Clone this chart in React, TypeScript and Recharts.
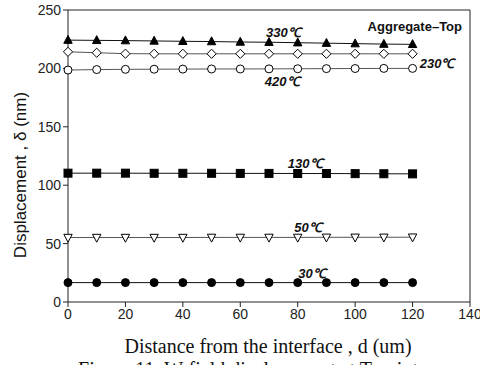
import React from "react";
import {
  LineChart,
  Line,
  XAxis,
  YAxis,
  ReferenceDot,
  ReferenceLine,
  Label,
} from "recharts";

// Distance from the interface (um)
const distances = [0, 10, 20, 30, 40, 50, 60, 70, 80, 90, 100, 110, 120];

// Displacement (nm) for each temperature
const t330 = [224.2, 224, 223.8, 223.5, 223.2, 223, 222.6, 222.4, 222, 221.6, 221.2, 220.8, 220.6];
const t230 = [214.2, 213.4, 212.6, 212.5, 212.5, 212.5, 212.5, 212.5, 212.5, 212.5, 212.5, 212.5, 212.5];
const t420 = [198.6, 199, 199.2, 199.3, 199.4, 199.5, 199.5, 199.6, 199.7, 199.8, 199.9, 200, 200];
const t130 = [110.3, 110.3, 110.3, 110.2, 110.2, 110.2, 110.1, 110.1, 110, 110, 109.9, 109.8, 109.7];
const t50 = [55.2, 55.2, 55.2, 55.2, 55.2, 55.3, 55.3, 55.3, 55.3, 55.4, 55.4, 55.4, 55.5];
const t30 = [16.6, 16.6, 16.6, 16.6, 16.6, 16.6, 16.6, 16.6, 16.6, 16.6, 16.6, 16.6, 16.6];

const xTicks = [0, 20, 40, 60, 80, 100, 120, 140];
const yTicks = [0, 50, 100, 150, 200, 250];

const data = distances.map((d, i) => ({
  d,
  t330: t330[i],
  t230: t230[i],
  t420: t420[i],
  t130: t130[i],
  t50: t50[i],
  t30: t30[i],
}));

// Temperature annotations placed in data coordinates
const tempLabels = [
  { x: 75, y: 230.8, text: "330\u2103", anchor: "middle" },
  { x: 122.5, y: 205, text: "230\u2103", anchor: "start" },
  { x: 74.6, y: 189.6, text: "420\u2103", anchor: "middle" },
  { x: 82.6, y: 119, text: "130\u2103", anchor: "middle" },
  { x: 83.6, y: 64, text: "50\u2103", anchor: "middle" },
  { x: 85, y: 24.7, text: "30\u2103", anchor: "middle" },
];

type Shape = "triUp" | "triDown" | "diamond" | "circle" | "square";

const makeDot = (shape: Shape, filled: boolean) => (props: any) => {
  const { cx, cy, index } = props;
  if (cx == null || cy == null) return <g key={index} />;
  const fill = filled ? "#000" : "#fff";
  const stroke = "#000";
  const s = 4.2;
  let el: React.ReactNode;
  if (shape === "circle") {
    el = <circle cx={cx} cy={cy} r={4} fill={fill} stroke={stroke} strokeWidth={1} />;
  } else if (shape === "square") {
    el = <rect x={cx - 4} y={cy - 4} width={8} height={8} fill={fill} stroke={stroke} strokeWidth={1} />;
  } else if (shape === "triUp") {
    el = (
      <polygon
        points={`${cx},${cy - s - 0.5} ${cx - s},${cy + s - 1} ${cx + s},${cy + s - 1}`}
        fill={fill}
        stroke={stroke}
        strokeWidth={1}
      />
    );
  } else if (shape === "triDown") {
    el = (
      <polygon
        points={`${cx - s},${cy - s + 1} ${cx + s},${cy - s + 1} ${cx},${cy + s + 0.5}`}
        fill={fill}
        stroke={stroke}
        strokeWidth={1}
      />
    );
  } else {
    el = (
      <polygon
        points={`${cx},${cy - 4.6} ${cx + 4.6},${cy} ${cx},${cy + 4.6} ${cx - 4.6},${cy}`}
        fill={fill}
        stroke={stroke}
        strokeWidth={1}
      />
    );
  }
  return <g key={index}>{el}</g>;
};

const tickStyle = { fontFamily: "Liberation Sans, Arial, sans-serif", fontSize: 14, fill: "#222" };

const TempText = (text: string, anchor: string) => (props: any) => {
  const vb = props.viewBox || {};
  const x = vb.x + (vb.width || 0) / 2;
  const y = vb.y + (vb.height || 0) / 2;
  return (
    <text
      x={x}
      y={y}
      dy={5}
      textAnchor={anchor}
      fontFamily="Liberation Sans, Arial, sans-serif"
      fontSize={13}
      fontWeight="bold"
      fontStyle="italic"
      fill="#111"
    >
      {text}
    </text>
  );
};

export default function App() {
  return (
    <div style={{ position: "absolute", left: 0, top: 0, width: 480, height: 365, background: "#fff", overflow: "hidden" }}>
      <LineChart
        width={480}
        height={365}
        data={data}
        margin={{ top: 10, right: 10, bottom: 43, left: 28 }}
      >
        <XAxis
          dataKey="d"
          type="number"
          domain={[0, 140]}
          ticks={xTicks}
          tick={tickStyle}
          tickSize={5}
          stroke="#222"
          height={20}
          interval={0}
        />
        <YAxis
          type="number"
          domain={[0, 250]}
          ticks={yTicks}
          tick={tickStyle}
          tickSize={5}
          stroke="#222"
          width={40}
          interval={0}
        />
        {/* frame: top and right edges of the plot box */}
        <ReferenceLine y={250} stroke="#222" strokeWidth={1} ifOverflow="visible" />
        <ReferenceLine x={140} stroke="#222" strokeWidth={1} ifOverflow="visible" />
        <Line dataKey="t330" stroke="#111" strokeWidth={1} isAnimationActive={false} dot={makeDot("triUp", true)} />
        <Line dataKey="t230" stroke="#555" strokeWidth={1} isAnimationActive={false} dot={makeDot("diamond", false)} />
        <Line dataKey="t420" stroke="#555" strokeWidth={1} isAnimationActive={false} dot={makeDot("circle", false)} />
        <Line dataKey="t130" stroke="#111" strokeWidth={1} isAnimationActive={false} dot={makeDot("square", true)} />
        <Line dataKey="t50" stroke="#555" strokeWidth={1} isAnimationActive={false} dot={makeDot("triDown", false)} />
        <Line dataKey="t30" stroke="#111" strokeWidth={1} isAnimationActive={false} dot={makeDot("circle", true)} />
        {tempLabels.map((l) => (
          <ReferenceDot
            key={l.text}
            x={l.x}
            y={l.y}
            r={0}
            stroke="none"
            fill="none"
            ifOverflow="visible"
            label={TempText(l.text, l.anchor)}
          />
        ))}
        <ReferenceDot x={140} y={250} r={0} stroke="none" fill="none" ifOverflow="visible">
          <Label
            content={(props: any) => {
              const vb = props.viewBox || {};
              return (
                <text
                  x={vb.x + (vb.width || 0) / 2 - 8}
                  y={vb.y + (vb.height || 0) / 2 + 21}
                  textAnchor="end"
                  fontFamily="Liberation Sans, Arial, sans-serif"
                  fontSize={13}
                  fontWeight="bold"
                  fill="#111"
                >
                  Aggregate–Top
                </text>
              );
            }}
          />
        </ReferenceDot>
      </LineChart>
      <svg width={480} height={365} style={{ position: "absolute", left: 0, top: 0, pointerEvents: "none" }}>
        <text
          x={20}
          y={175}
          transform="rotate(-90 20 175)"
          textAnchor="middle"
          dominantBaseline="central"
          fontFamily="Liberation Sans, Arial, sans-serif"
          fontSize={17}
          fill="#111"
        >
          Displacement , δ (nm)
        </text>
        <text
          x={268}
          y={353}
          textAnchor="middle"
          fontFamily="Liberation Serif, Times New Roman, serif"
          fontSize={20}
          fill="#111"
        >
          Distance from the interface , d (um)
        </text>
        <text
          x={248}
          y={376}
          textAnchor="middle"
          fontFamily="Liberation Serif, Times New Roman, serif"
          fontSize={20}
          fill="#111"
        >
          Figure 11. W-field displacement at T-point
        </text>
      </svg>
    </div>
  );
}
